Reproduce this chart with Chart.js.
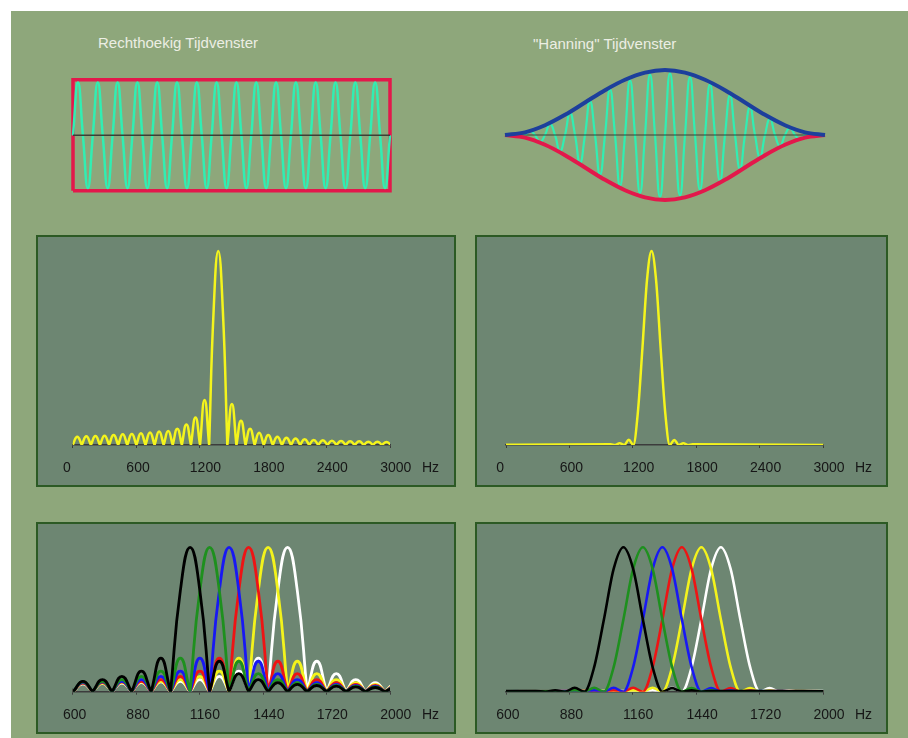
<!DOCTYPE html>
<html>
<head>
<meta charset="utf-8">
<script src="https://cdn.jsdelivr.net/npm/chart.js@4"></script>
<style>
  html, body { margin: 0; padding: 0; background: #ffffff; }
  #page { position: absolute; left: 11px; top: 11px; width: 897px; height: 727px; background: #8ea77b; }
  .abs { position: absolute; }
  .title { position: absolute; font: 15px "Liberation Sans", Arial, sans-serif; line-height: 17px; color: #eceee4; white-space: nowrap; }
  .panel { position: absolute; box-sizing: border-box; border: 2px solid #2c5a24; background: #6d8672; }
  .hz { position: absolute; font: 14px "Liberation Sans", Arial, sans-serif; line-height: 16px; color: #161616; }
</style>
</head>
<body>
<div id="page"></div>
<div class="title" style="left:98px;top:34px">Rechthoekig Tijdvenster</div>
<div class="title" style="left:533px;top:35px">"Hanning" Tijdvenster</div>
<canvas id="timeRect" class="abs" width="380" height="170" style="left:40px;top:55px"></canvas>
<canvas id="timeHann" class="abs" width="370" height="170" style="left:480px;top:50px"></canvas>

<div class="panel" style="left:36px;top:235px;width:420px;height:252px"></div>
<div class="panel" style="left:475px;top:235px;width:413px;height:252px"></div>
<div class="panel" style="left:36px;top:522px;width:420px;height:212px"></div>
<div class="panel" style="left:475px;top:522px;width:413px;height:212px"></div>

<canvas id="specRect" class="abs" width="420" height="252" style="left:36px;top:235px"></canvas>
<canvas id="specHann" class="abs" width="413" height="252" style="left:475px;top:235px"></canvas>
<canvas id="binsRect" class="abs" width="420" height="212" style="left:36px;top:522px"></canvas>
<canvas id="binsHann" class="abs" width="413" height="212" style="left:475px;top:522px"></canvas>

<span class="hz" style="left:422px;top:459px">Hz</span>
<span class="hz" style="left:855px;top:459px">Hz</span>
<span class="hz" style="left:422px;top:706px">Hz</span>
<span class="hz" style="left:855px;top:706px">Hz</span>

<script>
// time signals, one sample every quarter period (16 periods)
const rectSignal = [
  0, 0.95, 0, -0.95, 0, 0.95, 0, -0.95, 0, 0.95, 0, -0.95, 0, 0.95, 0, -0.95,
  0, 0.95, 0, -0.95, 0, 0.95, 0, -0.95, 0, 0.95, 0, -0.95, 0, 0.95, 0, -0.95,
  0, 0.95, 0, -0.95, 0, 0.95, 0, -0.95, 0, 0.95, 0, -0.95, 0, 0.95, 0, -0.95,
  0, 0.95, 0, -0.95, 0, 0.95, 0, -0.95, 0, 0.95, 0, -0.95, 0, 0.95, 0, -0.95,
  0
];
const rectWindowT = [0, 0, 1, 1, 0];
const rectWindowV = [-1, 1, 1, -1, -1];

const hannSignal = [
  0, 0.00, 0, -0.02, 0, 0.06, 0, -0.11, 0, 0.17, 0, -0.25, 0, 0.34, 0, -0.43,
  0, 0.52, 0, -0.61, 0, 0.70, 0, -0.78, 0, 0.84, 0, -0.89, 0, 0.93, 0, -0.95,
  0, 0.95, 0, -0.93, 0, 0.89, 0, -0.84, 0, 0.78, 0, -0.70, 0, 0.61, 0, -0.52,
  0, 0.43, 0, -0.34, 0, 0.25, 0, -0.17, 0, 0.11, 0, -0.06, 0, 0.02, 0, -0.00,
  0
];
const hannEnvelope = [0, 0.04, 0.15, 0.31, 0.5, 0.69, 0.85, 0.96, 1, 0.96, 0.85, 0.69, 0.5, 0.31, 0.15, 0.04, 0];

// spectra (Hz)
const binHz = 86;
const centreHz = 1376;
const rectMainBins = [-0.5, 0, 0.5];
const rectMainLevels = [0.7, 1, 0.7];
const rectLobesLeft = [0.232, 0.142, 0.106, 0.084, 0.072, 0.069, 0.065, 0.06, 0.057, 0.055, 0.051, 0.048, 0.046, 0.045, 0.043];
const rectLobesRight = [0.211, 0.125, 0.084, 0.063, 0.051, 0.043, 0.038, 0.033, 0.029, 0.026, 0.024, 0.022, 0.021, 0.019, 0.019, 0.017, 0.017, 0.015];
const hannBins = [-20, -4.5, -4, -3.5, -3, -2.5, -2, -1.5, -1, -0.5, 0, 0.5, 1, 1.5, 2, 2.5, 3, 3.5, 4, 4.5, 20];
const hannLevels = [0, 0.004, 0, 0.009, 0, 0.027, 0, 0.17, 0.5, 0.85, 1, 0.85, 0.5, 0.17, 0, 0.026, 0, 0.009, 0, 0.004, 0];

const shiftedPeaksHz = [1118, 1204, 1290, 1376, 1462, 1548];
const shiftedColors = ['#000000', '#1e901e', '#1818f4', '#ee1414', '#f3f31c', '#ffffff'];

const wideTicks = [0, 600, 1200, 1800, 2400, 3000];
const zoomTicks = [600, 880, 1160, 1440, 1720, 2000];

Chart.defaults.animation = false;
Chart.defaults.font.family = '"Liberation Sans", Arial, sans-serif';

const sampled = vals => vals.map((v, i) => ({ x: i / (vals.length - 1), y: v }));

function rectSpectrum(c) {
  const pts = [{ x: c - (rectLobesLeft.length + 1) * binHz, y: 0 }];
  for (let k = rectLobesLeft.length; k >= 1; k--) {
    pts.push({ x: c - (k + 0.5) * binHz, y: rectLobesLeft[k - 1] });
    // null listed twice so the lobes meet in a cusp
    pts.push({ x: c - k * binHz, y: 0 }, { x: c - k * binHz, y: 0 });
  }
  rectMainBins.forEach((b, i) => pts.push({ x: c + b * binHz, y: rectMainLevels[i] }));
  rectLobesRight.forEach((h, i) => {
    const k = i + 1;
    pts.push({ x: c + k * binHz, y: 0 }, { x: c + k * binHz, y: 0 });
    pts.push({ x: c + (k + 0.5) * binHz, y: h });
  });
  pts.push({ x: c + (rectLobesRight.length + 1) * binHz, y: 0 });
  return pts;
}

function hannSpectrum(c) {
  return hannBins.map((b, i) => ({ x: c + b * binHz, y: hannLevels[i] }));
}

function timeOptions(pad) {
  return {
    responsive: false,
    devicePixelRatio: 1,
    layout: { padding: pad },
    plugins: { legend: { display: false }, tooltip: { enabled: false } },
    elements: { point: { radius: 0 } },
    scales: {
      x: { type: 'linear', display: false, min: 0, max: 1 },
      y: { display: false, min: -1.25, max: 1.25 }
    }
  };
}

function specOptions(min, max, ticks, pad, axisH, labelPad) {
  return {
    responsive: false,
    devicePixelRatio: 1,
    layout: { padding: pad },
    plugins: { legend: { display: false }, tooltip: { enabled: false } },
    elements: { point: { radius: 0 } },
    scales: {
      x: {
        type: 'linear',
        min: min,
        max: max,
        afterBuildTicks: s => { s.ticks = ticks.map(v => ({ value: v })); },
        afterFit: s => { s.height = axisH; },
        grid: { display: true, drawOnChartArea: false, drawTicks: true, tickLength: 3, color: '#3c3c3c' },
        border: { display: true, color: '#3c3c3c', width: 1.5 },
        ticks: {
          color: '#161616',
          font: { size: 14 },
          padding: labelPad,
          align: 'start',
          labelOffset: -9.8,
          maxRotation: 0,
          autoSkip: false,
          callback: v => String(v)
        }
      },
      y: { display: false, min: 0, max: 1.04 }
    }
  };
}

new Chart(document.getElementById('timeRect'), {
  type: 'line',
  data: {
    datasets: [
      { data: [{ x: 0, y: 0 }, { x: 1, y: 0 }], borderColor: '#3b4036', borderWidth: 1.5, clip: false },
      { data: sampled(rectSignal), borderColor: '#31eeb2', borderWidth: 2.5, tension: 0.5, clip: false },
      { data: rectWindowT.map((t, i) => ({ x: t, y: rectWindowV[i] })), borderColor: '#e3184b', borderWidth: 3.5,
        borderJoinStyle: 'miter', clip: false }
    ]
  },
  options: timeOptions({ left: 33, right: 30, top: 10.9, bottom: 20.3 })
});

new Chart(document.getElementById('timeHann'), {
  type: 'line',
  data: {
    datasets: [
      { data: sampled(hannEnvelope), borderColor: '#1d3f9c', borderWidth: 4, cubicInterpolationMode: 'monotone', clip: false },
      { data: sampled(hannEnvelope.map(v => -v)), borderColor: '#e3184b', borderWidth: 4, cubicInterpolationMode: 'monotone', clip: false },
      { data: [{ x: 0, y: 0 }, { x: 1, y: 0 }], borderColor: '#3b4036', borderWidth: 1.2, clip: false },
      { data: sampled(hannSignal), borderColor: '#31eeb2', borderWidth: 2.2, tension: 0.5, clip: false }
    ]
  },
  options: timeOptions({ left: 25, right: 25, top: 3.75, bottom: 3.75 })
});

new Chart(document.getElementById('specRect'), {
  type: 'line',
  data: { datasets: [{ data: rectSpectrum(centreHz), borderColor: '#f4f41c', borderWidth: 2.5, tension: 0.5 }] },
  options: specOptions(0, 3000, wideTicks, { left: 36.7, right: 66, top: 8.2, bottom: 0 }, 42, 11.5)
});

new Chart(document.getElementById('specHann'), {
  type: 'line',
  data: { datasets: [{ data: hannSpectrum(centreHz), borderColor: '#f4f41c', borderWidth: 2.5, cubicInterpolationMode: 'monotone' }] },
  options: specOptions(0, 3000, wideTicks, { left: 31, right: 64.7, top: 8.2, bottom: 0 }, 42, 11.5)
});

new Chart(document.getElementById('binsRect'), {
  type: 'line',
  data: {
    datasets: shiftedPeaksHz.map((c, i) => ({
      data: rectSpectrum(c), borderColor: shiftedColors[i], borderWidth: 2.8, tension: 0.5
    }))
  },
  options: specOptions(600, 2000, zoomTicks, { left: 36.7, right: 66, top: 19.5, bottom: 0 }, 42.3, 12)
});

new Chart(document.getElementById('binsHann'), {
  type: 'line',
  data: {
    datasets: shiftedPeaksHz.map((c, i) => ({
      data: hannSpectrum(c), borderColor: shiftedColors[i], borderWidth: 2.6, cubicInterpolationMode: 'monotone'
    }))
  },
  options: specOptions(600, 2000, zoomTicks, { left: 31, right: 64.7, top: 19.5, bottom: 0 }, 42.3, 12)
});
</script>
</body>
</html>
